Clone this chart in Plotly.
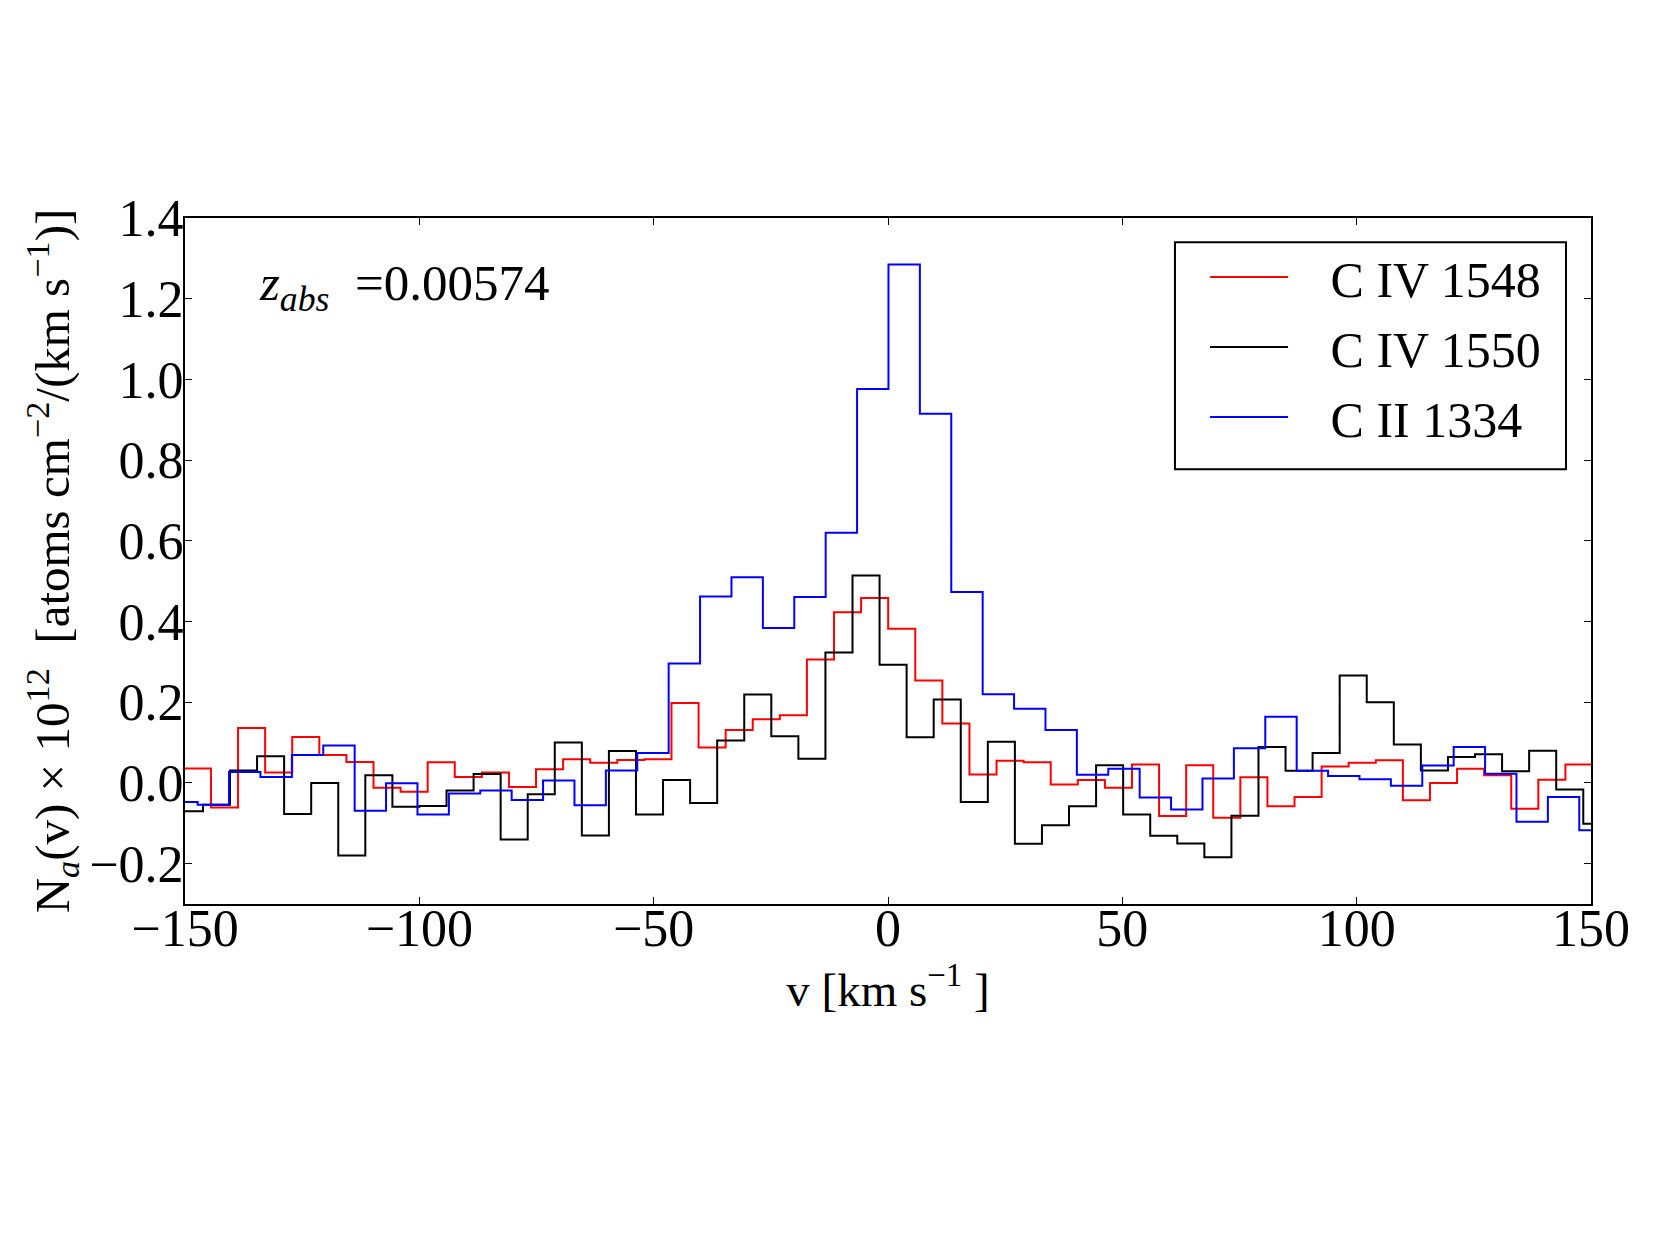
import numpy as np
import plotly.graph_objects as go

# Velocity grid of each spectrum (first bin's left edge and bin width, km/s)
red_v0, red_dv = -150.24, 5.78
black_v0, black_dv = -151.95, 5.775
blue_v0, blue_dv = -154.0, 6.70

# Apparent column density per bin (x 10^12 atoms cm^-2 / (km/s))
civ1548_vals = [0.036, -0.061, 0.136, 0.026, 0.114, 0.069, 0.052, -0.012, -0.022, 0.051,
                0.015, 0.026, -0.010, 0.034, 0.059, 0.050, 0.057, 0.059, 0.198, 0.088,
                0.131, 0.158, 0.168, 0.306, 0.423, 0.458, 0.382, 0.254, 0.147, 0.021,
                0.055, 0.051, -0.004, 0.007, -0.012, 0.046, -0.082, 0.044, -0.086, 0.014,
                -0.058, -0.035, 0.041, 0.050, 0.056, -0.043, 0.000, 0.035, 0.019, -0.064,
                0.008, 0.046]
civ1550_vals = [-0.070, -0.054, 0.031, 0.066, -0.077, 0.000, -0.180, 0.019, -0.059, -0.057,
                -0.019, 0.022, -0.140, -0.028, 0.100, -0.130, 0.079, -0.078, 0.007, -0.050,
                0.105, 0.219, 0.116, 0.060, 0.323, 0.514, 0.293, 0.113, 0.207, -0.047,
                0.102, -0.151, -0.105, -0.058, 0.044, -0.078, -0.131, -0.150, -0.184, -0.081,
                0.089, 0.030, 0.074, 0.266, 0.200, 0.095, 0.031, 0.064, 0.071, 0.029,
                0.080, -0.016, -0.101]
cii1334_vals = [-0.047, -0.054, 0.027, 0.015, 0.069, 0.093, -0.069, -0.001, -0.078, -0.026,
                -0.019, -0.042, 0.006, -0.055, 0.031, 0.074, 0.296, 0.462, 0.510, 0.384,
                0.461, 0.620, 0.976, 1.285, 0.915, 0.473, 0.220, 0.184, 0.131, 0.020,
                0.035, -0.036, -0.066, 0.011, 0.086, 0.164, 0.030, 0.017, 0.009, -0.007,
                0.043, 0.089, 0.023, -0.096, -0.035, -0.117]

series_names = ["C IV 1548", "C IV 1550", "C II 1334"]
series_colors = ["#ff0000", "#000000", "#0000ff"]

x_ticks = [-150, -100, -50, 0, 50, 100, 150]
y_ticks = [-0.2, 0.0, 0.2, 0.4, 0.6, 0.8, 1.0, 1.2, 1.4]

FONT = "Liberation Serif"
NB = "\u00a0"

grids = [(red_v0, red_dv, civ1548_vals), (black_v0, black_dv, civ1550_vals),
         (blue_v0, blue_dv, cii1334_vals)]

fig = go.Figure()
for i, (name, color, (v0, dv, vals)) in enumerate(zip(series_names, series_colors, grids)):
    edges = v0 + dv * np.arange(len(vals) + 1)
    yv = list(vals) + [vals[-1]]
    fig.add_trace(go.Scatter(x=edges, y=yv, mode="lines", name=NB * 3 + name,
                             legendgroup="g%d" % i,
                             line=dict(color=color, width=2, shape="hv")))

axis_common = dict(
    ticks="inside", ticklen=7, tickwidth=1, tickcolor="black",
    showline=True, linecolor="black", linewidth=2, mirror="ticks",
    showgrid=False, zeroline=False,
    tickfont=dict(family=FONT, size=52, color="black"),
)

fig.update_layout(
    width=1655, height=1240,
    margin=dict(l=185, r=64, t=218, b=336),
    paper_bgcolor="white", plot_bgcolor="white",
    font=dict(family=FONT, color="black"),
    xaxis=dict(range=[-150, 150], tickvals=x_ticks, ticklabelstandoff=-22, **axis_common,
               title=dict(text="v [km s<sup>−1</sup> ]", font=dict(family=FONT, size=47), standoff=12)),
    yaxis=dict(range=[-0.3, 1.4], tickvals=y_ticks, tickformat=".1f", ticklabelstandoff=-11,
               **axis_common,
               title=dict(text="N<sub><i>a</i></sub>(v) × 10<sup>12</sup>  [atoms cm<sup>−2</sup>/(km s<sup>−1</sup>)]",
                          font=dict(family=FONT, size=49), standoff=4)),
    legend=dict(x=0.7255, y=0.9708, xanchor="left", yanchor="top",
                bgcolor="rgba(0,0,0,0)", borderwidth=0,
                font=dict(family=FONT, size=50, color="black"),
                itemwidth=78, tracegroupgap=2),
    showlegend=True,
)

# legend frame
fig.add_shape(type="rect", xref="paper", yref="paper",
              x0=0.7041, x1=0.9822, y0=0.6337, y1=0.9646,
              line=dict(color="black", width=2), fillcolor="white", layer="above")

fig.add_annotation(xref="paper", yref="paper", x=0.0512, y=0.899,
                   xanchor="left", yanchor="middle", showarrow=False,
                   text="<i>z</i><sub><i>abs</i></sub>" + NB + " =0.00574",
                   font=dict(family=FONT, size=51, color="black"))

fig.write_html("out.html")
